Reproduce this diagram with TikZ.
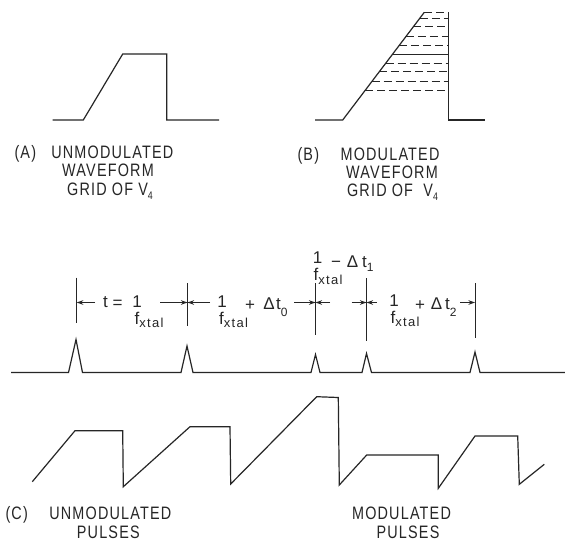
\documentclass[tikz,border=0pt]{standalone}
\usepackage{fontspec}
\newfontfamily\lett[FakeStretch=0.8,LetterSpace=6.6]{Liberation Sans}
\newfontfamily\frmfont{Liberation Sans}
\usetikzlibrary{arrows.meta}
\newcommand\fxtal[1][3.5pt]{f\raisebox{-#1}{\fontsize{13}{13}\selectfont\addfontfeature{LetterSpace=10}xtal}}
\newcommand\tsub[2][7pt]{t\raisebox{-#1}{\fontsize{12}{12}\selectfont #2}}
\begin{document}
\begin{tikzpicture}[x=1pt,y=-1pt,
  wave/.style={line width=1.2pt, line join=miter, black!85},
  gridline/.style={line width=0.9pt, black!85, dash pattern=on 8pt off 4pt},
  dimline/.style={line width=1pt, black!85},
  dimarrow/.style={line width=1.1pt, black!85, -{Stealth[length=6.5pt,width=4.5pt]}},
  lbl/.style={font=\lett\fontsize{18}{20}\selectfont, inner sep=0pt, anchor=base, text=black!85},
  frm/.style={font=\frmfont\fontsize{17}{20}\selectfont, inner sep=0pt, anchor=base, text=black!85},
  frml/.style={frm, anchor=base west},
]
\path[use as bounding box, fill=white] (0,0) rectangle (565,541);

% ---------- Panel A ----------
\draw[wave] (52.7,120) -- (83.3,120) -- (122.7,54) -- (166.7,54) -- (166.7,120) -- (219,120);
\node[lbl] (la1) at (25.3,158.3) {(A)};
\node[lbl] (la2) at (112.3,158.3) {UNMODULATED};
\node[lbl] (la3) at (108,176.8) {WAVEFORM};
\node[lbl] (la4) at (110,195.3) {GRID OF V\raisebox{-4pt}{\fontsize{11}{11}\selectfont 4}};

% ---------- Panel B ----------
\draw[wave] (315,120) -- (342.7,120) -- (424.3,12.3);
\draw[wave] (448.3,12.3) -- (448.3,120) -- (485,120);
\draw[gridline] (424.3,12.3) -- (448.3,12.3);
\foreach \yy in {18.3,26.7,36.7,45.7,63.3,71.7,81.7,90}
  \draw[gridline] ({342.7+(120-\yy)*0.7577},\yy) -- (448.3,\yy);
\draw[dimline] ({342.7+(120-54.3)*0.7577},54.3) -- (448.3,54.3);
\node[lbl] (lb1) at (308.3,160) {(B)};
\node[lbl] (lb2) at (390,160) {MODULATED};
\node[lbl] (lb3) at (392,178) {WAVEFORM};
\node[lbl] (lb4) at (392.5,196) {GRID OF\ \ V\raisebox{-4pt}{\fontsize{11}{11}\selectfont 4}};

% ---------- Pulse train ----------
\draw[wave] (11,372.5) -- (68.5,372.5) -- (76,339.5) -- (82.5,372.5)
  -- (181,372.5) -- (187,346) -- (193,372.5)
  -- (311,372.5) -- (315.5,354.5) -- (320,372.5)
  -- (362,372.5) -- (366.5,353.5) -- (371.5,372.5)
  -- (470,372.5) -- (475,352) -- (480,372.5) -- (565,372.5);

% vertical markers
\coordinate (v1t) at (76.7,277.7);  \coordinate (v1b) at (76.7,323.3);
\coordinate (v2t) at (187.5,283.3); \coordinate (v2b) at (187.5,326);
\coordinate (v3t) at (315.5,283.3); \coordinate (v3b) at (315.5,335);
\coordinate (v4t) at (366.5,278.3); \coordinate (v4b) at (366.5,341);
\coordinate (v5t) at (475,283.3);   \coordinate (v5b) at (475,337.7);
\draw[dimline] (v1t) -- (v1b);
\draw[dimline] (v2t) -- (v2b);
\draw[dimline] (v3t) -- (v3b);
\draw[dimline] (v4t) -- (v4b);
\draw[dimline] (v5t) -- (v5b);

% arrow row
\coordinate (m1) at (76.7,302.5);
\coordinate (m2) at (187.5,302.5);
\coordinate (m3) at (315.5,302.5);
\coordinate (m4) at (366.5,302.5);
\coordinate (m5) at (475,302.5);
\coordinate (e1) at (95,302.5);
\coordinate (e2) at (160,302.5);
\coordinate (e3) at (210,302.5);
\coordinate (e4) at (294.3,302.5);
\coordinate (e5) at (330,302.5);
\coordinate (e6) at (351.7,302.5);
\coordinate (e7) at (376.7,302.5);
\coordinate (e8) at (460,302.5);
\draw[dimarrow] (e1) -- (m1);
\draw[dimarrow] (e2) -- (m2);
\draw[dimarrow] (e3) -- (m2);
\draw[dimarrow] (e4) -- (m3);
\draw[dimarrow] (e5) -- (m3);
\draw[dimarrow] (e6) -- (m4);
\draw[dimarrow] (e7) -- (m4);
\draw[dimarrow] (e8) -- (m5);

% label 1: t = 1/f_xtal
\node[frm] (t1a) at (105.5,307.5) {t};
\node[frm] (t1b) at (117.5,308) {=};
\node[frm] (t1c) at (137,307) {1};
\node[frml] (t1d) at (134.5,324) {\fxtal};

% label 2: 1/f_xtal + Delta t0
\node[frm] (t2a) at (222,307) {1};
\node[frml] (t2b) at (219,324) {\fxtal};
\node[frm] (t2c) at (250,310) {+};
\node[frm] (t2d) at (269,309.5) {Δ};
\node[frml] (t2e) at (276,309) {\tsub{0}};

% label 3: 1/f_xtal - Delta t1
\node[frm] (t3a) at (317.5,263.5) {1};
\node[frml] (t3b) at (313.5,280.5) {\fxtal[4pt]};
\node[frm] (t3c) at (336,267) {−};
\node[frm] (t3d) at (352.5,267.5) {Δ};
\node[frml] (t3e) at (362,267.5) {\tsub[4pt]{1}};

% label 4: 1/f_xtal + Delta t2
\node[frm] (t4a) at (394,306.5) {1};
\node[frml] (t4b) at (390.5,323) {\fxtal};
\node[frm] (t4c) at (420,310) {+};
\node[frm] (t4d) at (436.5,309.5) {Δ};
\node[frml] (t4e) at (445,309) {\tsub{2}};

% ---------- Sawtooth pulses ----------
\draw[wave] (32.3,481.7) -- (75,430.7) -- (122.7,430.7) -- (123.3,486.7)
  -- (190,426.7) -- (230,426.7) -- (230.7,484)
  -- (316.7,396.7) -- (338.3,397.5) -- (339.3,485)
  -- (366.7,455) -- (438.3,455) -- (438.3,488.3)
  -- (475,436) -- (517.7,436) -- (519.3,484.3) -- (544.3,464.3);
\node[lbl] (lc1) at (16.7,519) {(C)};
\node[lbl] (lc2) at (110.3,519) {UNMODULATED};
\node[lbl] (lc3) at (108.3,538) {PULSES};
\node[lbl] (lc4) at (401.5,519) {MODULATED};
\node[lbl] (lc5) at (408,538) {PULSES};
\end{tikzpicture}
\end{document}
